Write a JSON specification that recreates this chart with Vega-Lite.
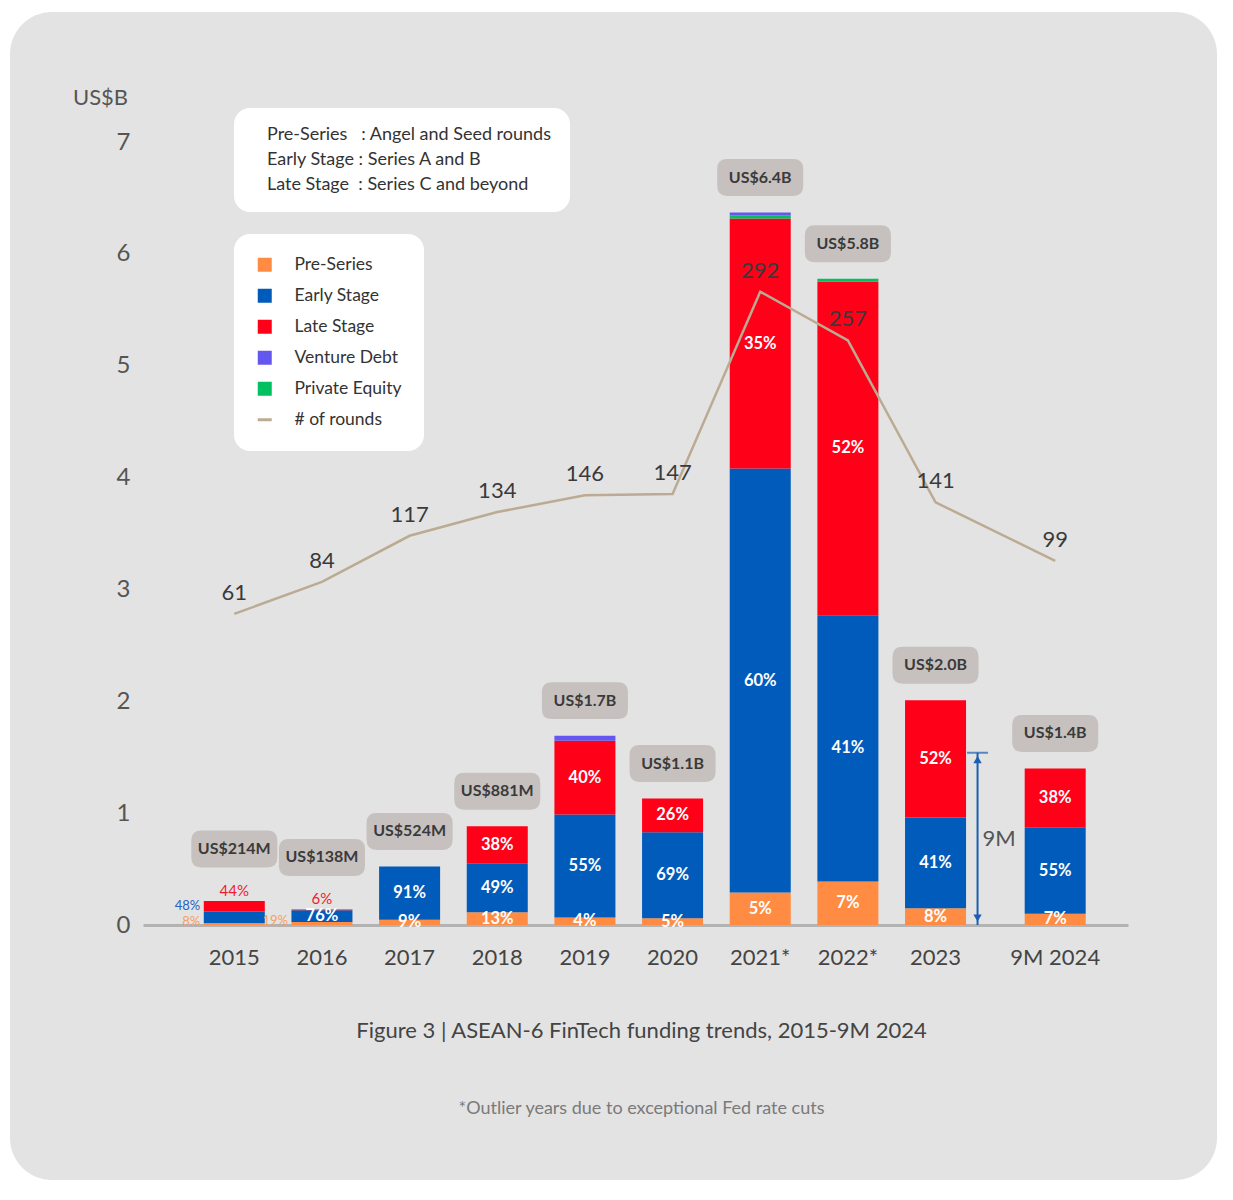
{
  "$schema": "https://vega.github.io/schema/vega-lite/v6.json",
  "width": 1207,
  "height": 1168,
  "autosize": {"type": "none"},
  "padding": {"left": 10, "top": 12, "right": 16, "bottom": 20},
  "background": "#ffffff",
  "config": {
    "view": {"fill": "#e3e3e3", "stroke": null, "cornerRadius": 42},
    "font": "Lato",
    "axis": {"grid": false, "ticks": false}
  },
  "title": {
    "text": "Figure 3 | ASEAN-6 FinTech funding trends, 2015-9M 2024",
    "subtitle": "*Outlier years due to exceptional Fed rate cuts",
    "orient": "bottom",
    "anchor": "middle",
    "offset": -159,
    "dx": 28,
    "fontSize": 22,
    "fontWeight": "normal",
    "color": "#444444",
    "subtitleFontSize": 18,
    "subtitleColor": "#7a7a7a",
    "subtitlePadding": 57
  },
  "datasets": {
    "stages": [
      {"year": "2015", "stage": "Pre-Series", "value": 0.017, "pct": "8%"},
      {"year": "2015", "stage": "Early Stage", "value": 0.103, "pct": "48%"},
      {"year": "2015", "stage": "Late Stage", "value": 0.094, "pct": "44%"},
      {"year": "2016", "stage": "Pre-Series", "value": 0.026, "pct": "19%"},
      {"year": "2016", "stage": "Early Stage", "value": 0.105, "pct": "76%"},
      {"year": "2016", "stage": "Late Stage", "value": 0.008, "pct": "6%"},
      {"year": "2017", "stage": "Pre-Series", "value": 0.047, "pct": "9%"},
      {"year": "2017", "stage": "Early Stage", "value": 0.477, "pct": "91%"},
      {"year": "2018", "stage": "Pre-Series", "value": 0.115, "pct": "13%"},
      {"year": "2018", "stage": "Early Stage", "value": 0.432, "pct": "49%"},
      {"year": "2018", "stage": "Late Stage", "value": 0.335, "pct": "38%"},
      {"year": "2019", "stage": "Pre-Series", "value": 0.068, "pct": "4%"},
      {"year": "2019", "stage": "Early Stage", "value": 0.92, "pct": "55%"},
      {"year": "2019", "stage": "Late Stage", "value": 0.66, "pct": "40%"},
      {"year": "2019", "stage": "Venture Debt", "value": 0.045, "pct": null},
      {"year": "2020", "stage": "Pre-Series", "value": 0.06, "pct": "5%"},
      {"year": "2020", "stage": "Early Stage", "value": 0.77, "pct": "69%"},
      {"year": "2020", "stage": "Late Stage", "value": 0.30, "pct": "26%"},
      {"year": "2021*", "stage": "Pre-Series", "value": 0.29, "pct": "5%"},
      {"year": "2021*", "stage": "Early Stage", "value": 3.79, "pct": "60%"},
      {"year": "2021*", "stage": "Late Stage", "value": 2.235, "pct": "35%"},
      {"year": "2021*", "stage": "Private Equity", "value": 0.027, "pct": null},
      {"year": "2021*", "stage": "Venture Debt", "value": 0.027, "pct": null},
      {"year": "2022*", "stage": "Pre-Series", "value": 0.39, "pct": "7%"},
      {"year": "2022*", "stage": "Early Stage", "value": 2.38, "pct": "41%"},
      {"year": "2022*", "stage": "Late Stage", "value": 2.98, "pct": "52%"},
      {"year": "2022*", "stage": "Private Equity", "value": 0.027, "pct": null},
      {"year": "2023", "stage": "Pre-Series", "value": 0.15, "pct": "8%"},
      {"year": "2023", "stage": "Early Stage", "value": 0.81, "pct": "41%"},
      {"year": "2023", "stage": "Late Stage", "value": 1.05, "pct": "52%"},
      {"year": "9M 2024", "stage": "Pre-Series", "value": 0.10, "pct": "7%"},
      {"year": "9M 2024", "stage": "Early Stage", "value": 0.77, "pct": "55%"},
      {"year": "9M 2024", "stage": "Late Stage", "value": 0.53, "pct": "38%"}
    ],
    "totals": [
      {"year": "2015", "total": 0.214, "label": "US$214M"},
      {"year": "2016", "total": 0.139, "label": "US$138M"},
      {"year": "2017", "total": 0.524, "label": "US$524M"},
      {"year": "2018", "total": 0.882, "label": "US$881M"},
      {"year": "2019", "total": 1.693, "label": "US$1.7B"},
      {"year": "2020", "total": 1.13, "label": "US$1.1B"},
      {"year": "2021*", "total": 6.369, "label": "US$6.4B"},
      {"year": "2022*", "total": 5.777, "label": "US$5.8B"},
      {"year": "2023", "total": 2.01, "label": "US$2.0B"},
      {"year": "9M 2024", "total": 1.40, "label": "US$1.4B"}
    ],
    "rounds": [
      {"year": "2015", "stage": "# of rounds", "rounds": 61},
      {"year": "2016", "stage": "# of rounds", "rounds": 84},
      {"year": "2017", "stage": "# of rounds", "rounds": 117},
      {"year": "2018", "stage": "# of rounds", "rounds": 134},
      {"year": "2019", "stage": "# of rounds", "rounds": 146},
      {"year": "2020", "stage": "# of rounds", "rounds": 147},
      {"year": "2021*", "stage": "# of rounds", "rounds": 292},
      {"year": "2022*", "stage": "# of rounds", "rounds": 257},
      {"year": "2023", "stage": "# of rounds", "rounds": 141},
      {"year": "9M 2024", "stage": "# of rounds", "rounds": 99}
    ],
    "nine_month": [
      {"year": "2023", "value": 1.54, "label": "9M"}
    ],
    "definitions": [
      {"definition": "Pre-Series\u00a0\u00a0\u00a0: Angel and Seed rounds\u00a0\u00a0\u00a0\u00a0\u00a0\u00a0\u00a0\u00a0\u00a0"},
      {"definition": "Early Stage : Series A and B"},
      {"definition": "Late Stage\u00a0\u00a0: Series C and beyond"}
    ]
  },
  "encoding": {
    "x": {
      "field": "year",
      "type": "nominal",
      "scale": {
        "domain": ["2015", "2016", "2017", "2018", "2019", "2020", "2021*", "2022*", "2023", "9M 2024"],
        "range": [133, 1118],
        "paddingInner": 0.304,
        "paddingOuter": 0.7705,
        "align": 0.45
      },
      "axis": {
        "title": null,
        "orient": "bottom",
        "offset": -255,
        "domainColor": "#b3b3b3",
        "domainWidth": 3,
        "ticks": false,
        "labelAngle": 0,
        "labelFontSize": 22,
        "labelColor": "#444444",
        "labelPadding": 22,
        "labelOffset": {"condition": {"test": "datum.value === '9M 2024'", "value": 32}, "value": 0},
        "grid": false
      }
    }
  },
  "resolve": {"scale": {"y": "independent"}},
  "layer": [
    {
      "layer": [
        {
          "data": {"name": "stages"},
          "transform": [
            {"window": [{"op": "row_number", "as": "idx"}], "groupby": ["year"]},
            {"stack": "value", "groupby": ["year"], "sort": [{"field": "idx", "order": "ascending"}], "as": ["v0", "v1"]}
          ],
          "layer": [
            {
              "mark": {"type": "bar", "xOffset": {"expr": "datum.year === '9M 2024' ? 32 : 0"}},
              "encoding": {
                "y": {
                  "field": "v0",
                  "type": "quantitative",
                  "scale": {"domain": [0, 7], "range": [913, 130], "nice": false, "zero": true},
                  "axis": {
                    "title": "US$B",
                    "values": [0, 1, 2, 3, 4, 5, 6, 7],
                    "format": "d",
                    "offset": -130,
                    "domain": false,
                    "ticks": false,
                    "grid": false,
                    "labelFontSize": 24,
                    "labelColor": "#555555",
                    "labelPadding": 10,
                    "titleAngle": 0,
                    "titleX": -40,
                    "titleY": 85,
                    "titleFontSize": 22,
                    "titleColor": "#555555",
                    "titleFontWeight": "normal",
                    "titleAlign": "center",
                    "titleBaseline": "middle"
                  }
                },
                "y2": {"field": "v1"},
                "color": {
                  "field": "stage",
                  "type": "nominal",
                  "scale": {
                    "domain": ["Pre-Series", "Early Stage", "Late Stage", "Venture Debt", "Private Equity", "# of rounds"],
                    "range": ["#ff8c42", "#005bbb", "#ff0019", "#6457f0", "#00c060", "#bcab93"]
                  },
                  "legend": {
                    "title": null,
                    "orient": "none",
                    "legendX": 224,
                    "legendY": 222,
                    "fillColor": "#ffffff",
                    "cornerRadius": 16,
                    "padding": 22,
                    "rowPadding": 12,
                    "labelFontSize": 17.5,
                    "labelColor": "#333333",
                    "symbolSize": 196,
                    "symbolType": {"expr": "datum.value === '# of rounds' ? 'stroke' : 'square'"},
                    "symbolStrokeWidth": {"expr": "datum.value === '# of rounds' ? 3 : 0"},
                    "symbolStrokeColor": "#bcab93",
                    "labelOffset": 21
                  }
                }
              }
            },
            {
              "transform": [
                {"filter": "datum.pct != null && datum.year !== '2015' && (datum.year !== '2016' || datum.stage === 'Early Stage')"},
                {"fold": ["v0", "v1"], "as": ["edge", "edgeval"]},
                {"aggregate": [{"op": "mean", "field": "edgeval", "as": "mid"}], "groupby": ["year", "stage", "pct"]}
              ],
              "mark": {"type": "text", "fill": "#ffffff", "fontSize": 16.5, "fontWeight": "bold", "baseline": "middle", "xOffset": {"expr": "datum.year === '9M 2024' ? 32 : 0"}},
              "encoding": {
                "y": {"field": "mid", "type": "quantitative"},
                "text": {"field": "pct"}
              }
            },
            {
              "transform": [
                {"filter": "(datum.year === '2015' || datum.year === '2016') && datum.stage === 'Late Stage'"}
              ],
              "mark": {"type": "text", "fill": "#ee1c2c", "fontSize": 15, "baseline": "alphabetic", "dy": -5},
              "encoding": {
                "y": {"field": "v1", "type": "quantitative"},
                "text": {"field": "pct"}
              }
            },
            {
              "transform": [
                {"filter": "datum.year === '2015' && datum.stage === 'Early Stage'"}
              ],
              "mark": {"type": "text", "fontSize": 13, "align": "right", "baseline": "alphabetic", "dx": -34, "dy": -2, "fill": "#2563c4"},
              "encoding": {
                "y": {"field": "v1", "type": "quantitative"},
                "text": {"field": "pct"}
              }
            },
            {
              "transform": [
                {"filter": "(datum.year === '2015' || datum.year === '2016') && datum.stage === 'Pre-Series'"}
              ],
              "mark": {"type": "text", "fontSize": 13, "align": "right", "baseline": "alphabetic", "dx": -34, "dy": 3, "fill": "#f5a064"},
              "encoding": {
                "y": {"field": "v1", "type": "quantitative"},
                "text": {"field": "pct"}
              }
            }
          ]
        },
        {
          "data": {"name": "totals"},
          "layer": [
            {
              "transform": [{"filter": "datum.year !== '2015' && datum.year !== '2016'"}],
              "layer": [
                {
                  "mark": {
                    "type": "point",
                    "shape": "M-0.733,-0.411 L0.733,-0.411 Q0.956,-0.411 0.956,-0.189 L0.956,0.189 Q0.956,0.411 0.733,0.411 L-0.733,0.411 Q-0.956,0.411 -0.956,0.189 L-0.956,-0.189 Q-0.956,-0.411 -0.733,-0.411 Z",
                    "size": 8100, "filled": true, "fill": "#c6c1be", "opacity": 1, "strokeWidth": 0, "yOffset": -35,
                    "xOffset": {"expr": "datum.year === '9M 2024' ? 32 : 0"}
                  },
                  "encoding": {"y": {"field": "total", "type": "quantitative"}}
                },
                {
                  "mark": {"type": "text", "fontSize": 16, "fontWeight": "bold", "fill": "#3a3a3a", "baseline": "middle", "yOffset": -35,
                    "xOffset": {"expr": "datum.year === '9M 2024' ? 32 : 0"}},
                  "encoding": {"y": {"field": "total", "type": "quantitative"}, "text": {"field": "label"}}
                }
              ]
            },
            {
              "transform": [{"filter": "datum.year === '2015' || datum.year === '2016'"}],
              "layer": [
                {
                  "mark": {
                    "type": "point",
                    "shape": "M-0.733,-0.411 L0.733,-0.411 Q0.956,-0.411 0.956,-0.189 L0.956,0.189 Q0.956,0.411 0.733,0.411 L-0.733,0.411 Q-0.956,0.411 -0.956,0.189 L-0.956,-0.189 Q-0.956,-0.411 -0.733,-0.411 Z",
                    "size": 8100, "filled": true, "fill": "#c6c1be", "opacity": 1, "strokeWidth": 0, "yOffset": -52
                  },
                  "encoding": {"y": {"field": "total", "type": "quantitative"}}
                },
                {
                  "mark": {"type": "text", "fontSize": 16, "fontWeight": "bold", "fill": "#3a3a3a", "baseline": "middle", "yOffset": -52},
                  "encoding": {"y": {"field": "total", "type": "quantitative"}, "text": {"field": "label"}}
                }
              ]
            }
          ]
        },
        {
          "data": {"name": "nine_month"},
          "layer": [
            {
              "mark": {"type": "rule", "color": "#1a5fb4", "strokeWidth": 2, "xOffset": 42},
              "encoding": {
                "y": {"field": "value", "type": "quantitative"},
                "y2": {"datum": 0}
              }
            },
            {
              "mark": {"type": "tick", "color": "#1a5fb4", "thickness": 2, "size": 21, "xOffset": 42},
              "encoding": {"y": {"field": "value", "type": "quantitative"}}
            },
            {
              "mark": {"type": "point", "shape": "triangle-up", "filled": true, "color": "#1a5fb4", "size": 70, "opacity": 1, "xOffset": 42, "yOffset": 7},
              "encoding": {"y": {"field": "value", "type": "quantitative"}}
            },
            {
              "mark": {"type": "point", "shape": "triangle-down", "filled": true, "color": "#1a5fb4", "size": 70, "opacity": 1, "xOffset": 42, "yOffset": -7},
              "encoding": {"y": {"datum": 0, "type": "quantitative"}}
            },
            {
              "mark": {"type": "text", "fontSize": 22, "fill": "#555555", "align": "left", "baseline": "middle", "dx": 5, "xOffset": 42, "yOffset": 86},
              "encoding": {
                "y": {"field": "value", "type": "quantitative"},
                "text": {"field": "label"}
              }
            }
          ]
        },
        {
          "data": {"name": "definitions"},
          "mark": {"type": "point", "opacity": 0},
          "encoding": {
            "x": {"value": 600},
            "y": {"value": 600},
            "shape": {
              "field": "definition",
              "type": "nominal",
              "sort": null,
              "legend": {
                "title": null,
                "orient": "none",
                "legendX": 224,
                "legendY": 96,
                "fillColor": "#ffffff",
                "cornerRadius": 16,
                "padding": 18,
                "rowPadding": 7,
                "labelFontSize": 18,
                "labelColor": "#333333",
                "labelLimit": 700,
                "symbolOpacity": 0,
                "symbolSize": 1,
                "symbolStrokeWidth": 0,
                "labelOffset": -3
              }
            }
          }
        }
      ]
    },
    {
      "data": {"name": "rounds"},
      "layer": [
        {
          "mark": {"type": "line", "strokeWidth": 2.5, "xOffset": {"expr": "datum.year === '9M 2024' ? 32 : 0"}},
          "encoding": {
            "y": {
              "field": "rounds",
              "type": "quantitative",
              "scale": {"domain": [0, 400], "range": [687, 129], "nice": false, "zero": true},
              "axis": null
            },
            "color": {"field": "stage", "type": "nominal"}
          }
        },
        {
          "mark": {"type": "text", "fontSize": 22, "fill": "#3a3a3a", "baseline": "middle", "dy": -21, "xOffset": {"expr": "datum.year === '9M 2024' ? 32 : 0"}},
          "encoding": {
            "y": {"field": "rounds", "type": "quantitative"},
            "text": {"field": "rounds"}
          }
        }
      ]
    }
  ]
}
